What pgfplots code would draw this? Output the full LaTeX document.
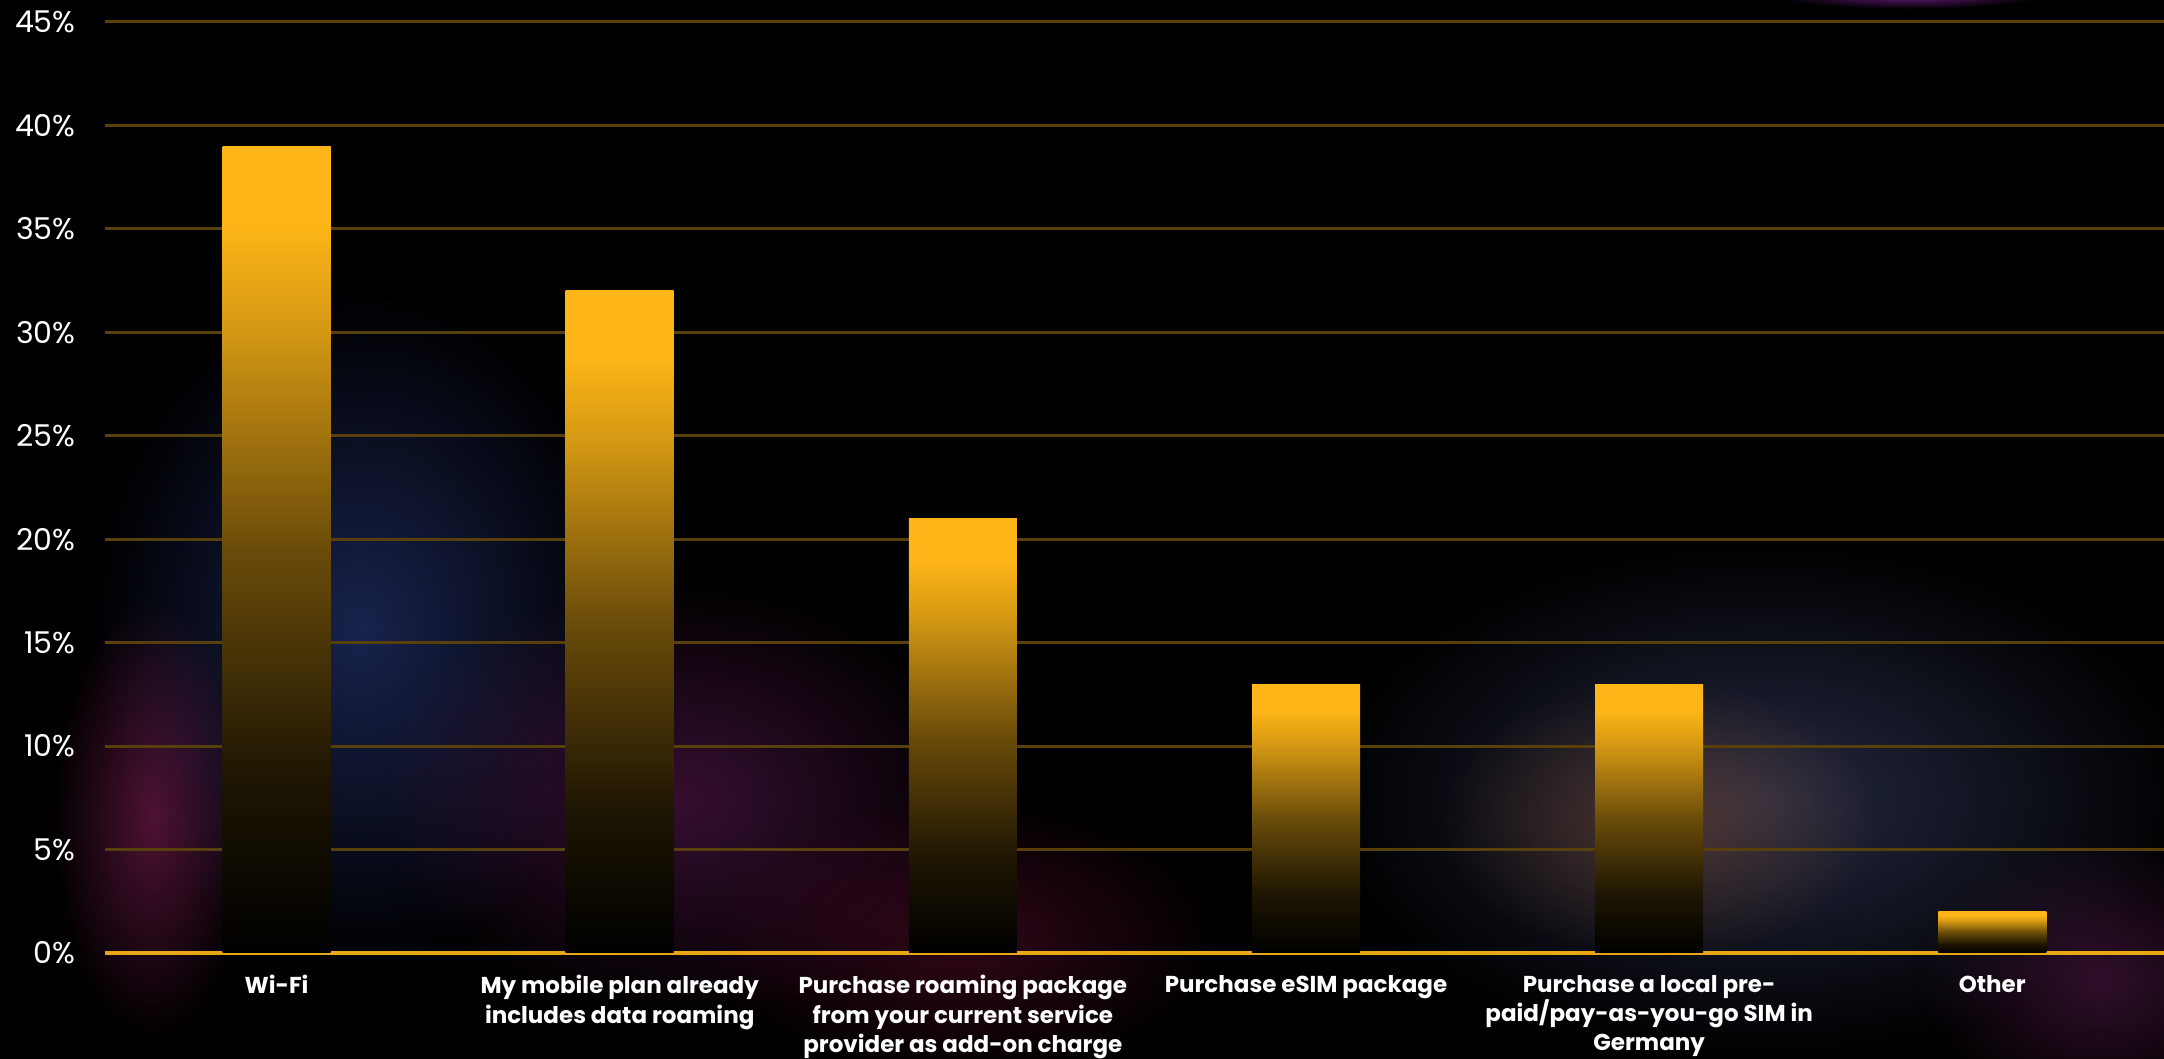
\documentclass[border=0pt]{standalone}
\usepackage{fontspec}
\setmainfont{Poppins}
\usepackage{pgfplots}
\pgfplotsset{compat=1.18}
\usetikzlibrary{fadings}
\definecolor{gold}{RGB}{253,181,23}
\definecolor{gridc}{RGB}{88,64,12}
\pgfdeclareverticalshading{barshade}{100bp}{color(0bp)=(black); color(25bp)=(black); color(36bp)=(gold!12!black); color(50bp)=(gold!42!black); color(64bp)=(gold!85!black); color(70bp)=(gold); color(100bp)=(gold)}
\tikzfading[name=glow, inner color=transparent!0, outer color=transparent!100]
\begin{document}
\begin{tikzpicture}
\fill[black] (0,0) rectangle (1082pt,529.5pt);
% soft background glows
\fill[color={rgb,255:red,35;green,50;blue,110}, path fading=glow, opacity=0.7] (180pt,215pt) ellipse (135pt and 170pt);
\fill[color={rgb,255:red,130;green,30;blue,85}, path fading=glow, opacity=0.6] (76pt,120pt) ellipse (50pt and 110pt);
\fill[color={rgb,255:red,90;green,25;blue,80}, path fading=glow, opacity=0.6] (340pt,130pt) ellipse (150pt and 110pt);
\fill[color={rgb,255:red,100;green,15;blue,50}, path fading=glow, opacity=0.5] (480pt,60pt) ellipse (130pt and 70pt);
\fill[color={rgb,255:red,60;green,70;blue,110}, path fading=glow, opacity=0.6] (880pt,130pt) ellipse (220pt and 130pt);
\fill[color={rgb,255:red,140;green,80;blue,45}, path fading=glow, opacity=0.45] (830pt,120pt) ellipse (110pt and 70pt);
\fill[color={rgb,255:red,80;green,25;blue,70}, path fading=glow, opacity=0.6] (1050pt,40pt) ellipse (90pt and 70pt);
\fill[color={rgb,255:red,150;green,40;blue,180}, path fading=glow, opacity=0.8] (955pt,533pt) ellipse (70pt and 8pt);
\begin{axis}[
  at={(52.5pt,53pt)}, anchor=south west,
  scale only axis, width=1029.5pt, height=465.5pt,
  xmin=-0.5, xmax=5.5, ymin=0, ymax=45,
  axis line style={draw=none},
  major tick length=0pt,
  ybar, bar width=54pt, bar shift=0pt,
  ymajorgrids,
  grid style={color=gridc, line width=1.5pt},
  ytick={5,10,...,45},
  extra y ticks={0},
  extra y tick style={major grid style={color=gold!92!black, line width=2pt}},
  yticklabel={\pgfmathprintnumber{\tick}\%},
  yticklabel style={font=\fontsize{15}{18}\selectfont, text=white, inner sep=0pt, anchor=east, xshift=-14.5pt},
  /pgf/number format/assume math mode=true,
  xtick={0,...,5},
  xticklabels={{Wi-Fi},{My mobile plan already\\includes data roaming},{Purchase roaming package\\from your current service\\provider as add-on charge},{Purchase eSIM package},{Purchase a local pre-\\paid/pay-as-you-go SIM in\\Germany},{Other}},
  xticklabel style={font=\bfseries\fontsize{11.5}{14.6}\selectfont, text=white, align=center, anchor=north, inner sep=0pt, yshift=-11pt},
  every axis plot/.append style={draw=none, shade, shading=barshade},
]
\addplot coordinates {(0,39)};
\addplot coordinates {(1,32)};
\addplot coordinates {(2,21)};
\addplot coordinates {(3,13)};
\addplot coordinates {(4,13)};
\addplot coordinates {(5,2)};
\end{axis}
\pgfresetboundingbox
\useasboundingbox (0,0) rectangle (1082pt,529.5pt);
\end{tikzpicture}
\end{document}
